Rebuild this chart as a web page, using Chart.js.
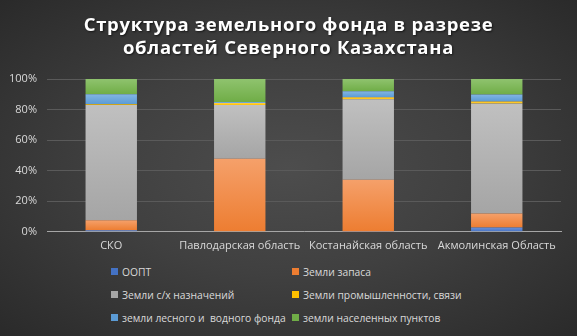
<!DOCTYPE html>
<html>
<head>
<meta charset="utf-8">
<script src="https://cdn.jsdelivr.net/npm/chart.js@4"></script>
<style>
  html,body{margin:0;padding:0}
  body{width:577px;height:336px;overflow:hidden;position:relative;
    background:radial-gradient(ellipse at 50% 50%, #4d4d4d 0%, #404040 45%, #2a2a2a 100%);
    font-family:'Open Sans',sans-serif}
  #title{position:absolute;left:0;top:12px;width:577px;text-align:center;color:#fff;
    font-weight:700;font-size:18.5px;line-height:23px;letter-spacing:0.7px;
    text-shadow:1px 1px 2px rgba(0,0,0,0.6)}
  #wrap{position:absolute;left:0;top:0;width:577px;height:259px}
  #legend{position:absolute;left:111px;top:263px;width:440px;
    display:grid;grid-template-columns:181px 230px;row-gap:6px;color:#d9d9d9;font-size:10.3px}
  .item{display:flex;align-items:center;height:17px;white-space:pre}
  .sw{width:7px;height:7px;margin-right:4px;flex:none}
</style>
</head>
<body>
<div id="wrap"><canvas id="c"></canvas></div>
<div id="title">Структура земельного фонда в разрезе<br>областей Северного Казахстана</div>
<div id="legend"></div>
<script>
const regions = ['СКО','Павлодарская область','Костанайская область','Акмолинская Область']
const seriesNames = ['ООПТ','Земли запаса','Земли с/х назначений','Земли промышленности, связи','земли лесного и  водного фонда','земли населенных пунктов']
const colors = ['#4472C4','#ED7D31','#A5A5A5','#FFC000','#5B9BD5','#70AD47']
const lighter = ['#6b8fd6','#f5a06a','#c0c0c0','#ffd24d','#82b5e3','#8fc36e']

// percent shares per region
const oopt     = [1.0, 0.0, 0.2, 2.8]
const zapas    = [6.5, 47.8, 33.8, 9.2]
const agri     = [75.5, 35.2, 52.8, 72.0]
const industry = [0.5, 1.3, 1.2, 1.3]
const forest   = [6.5, 0.7, 4.0, 4.6]
const settle   = [10.0, 15.0, 8.0, 10.1]
const series = [oopt, zapas, agri, industry, forest, settle]
const yTicks = [0,20,40,60,80,100]

function segFill(di){
  return ctx => {
    const ch = ctx.chart, y = ch.scales && ch.scales.y
    if (!y || ctx.dataIndex == null || !ch.chartArea) return colors[di]
    let base = 0
    for (let k=0;k<di;k++) base += series[k][ctx.dataIndex]
    const top = y.getPixelForValue(base + series[di][ctx.dataIndex])
    const bot = y.getPixelForValue(base)
    if (!isFinite(top) || !isFinite(bot) || bot-top < 1) return colors[di]
    const g = ch.ctx.createLinearGradient(0, top, 0, bot)
    g.addColorStop(0, lighter[di]); g.addColorStop(1, colors[di])
    return g
  }
}

new Chart(document.getElementById('c'), {
  type:'bar',
  data:{
    labels:regions,
    datasets:series.map((d,i)=>({ label:seriesNames[i], data:d, backgroundColor:segFill(i),
      borderWidth:0, barPercentage:0.4, categoryPercentage:1 }))
  },
  options:{
    responsive:true, maintainAspectRatio:false, animation:false,
    layout:{padding:{left:10,right:16,top:79,bottom:0}},
    plugins:{ legend:{display:false}, tooltip:{enabled:false}, title:{display:false} },
    scales:{
      x:{stacked:true, grid:{display:false, drawTicks:false}, border:{color:'#a6a6a6'},
        afterFit:ax=>{ ax.paddingLeft = 0; ax.paddingRight = 0 },
        ticks:{color:'#d9d9d9', font:{family:'Open Sans',size:11}, padding:7, maxRotation:0, autoSkip:false}},
      y:{stacked:true, min:0, max:100, border:{display:false},
        grid:{color:'#5a5a5a', drawTicks:false},
        afterFit:ax=>{ ax.width = 37 },
        afterBuildTicks:ax=>{ ax.ticks = yTicks.map(v=>({value:v})) },
        ticks:{color:'#d9d9d9', font:{family:'Open Sans',size:11}, padding:10, callback:v=>v+'%'}}
    }
  }
})

const lg = document.getElementById('legend')
seriesNames.forEach((n,i)=>{
  lg.innerHTML += `<div class="item"><span class="sw" style="background:${colors[i]}"></span>${n}</div>`
})
</script>
</body>
</html>
